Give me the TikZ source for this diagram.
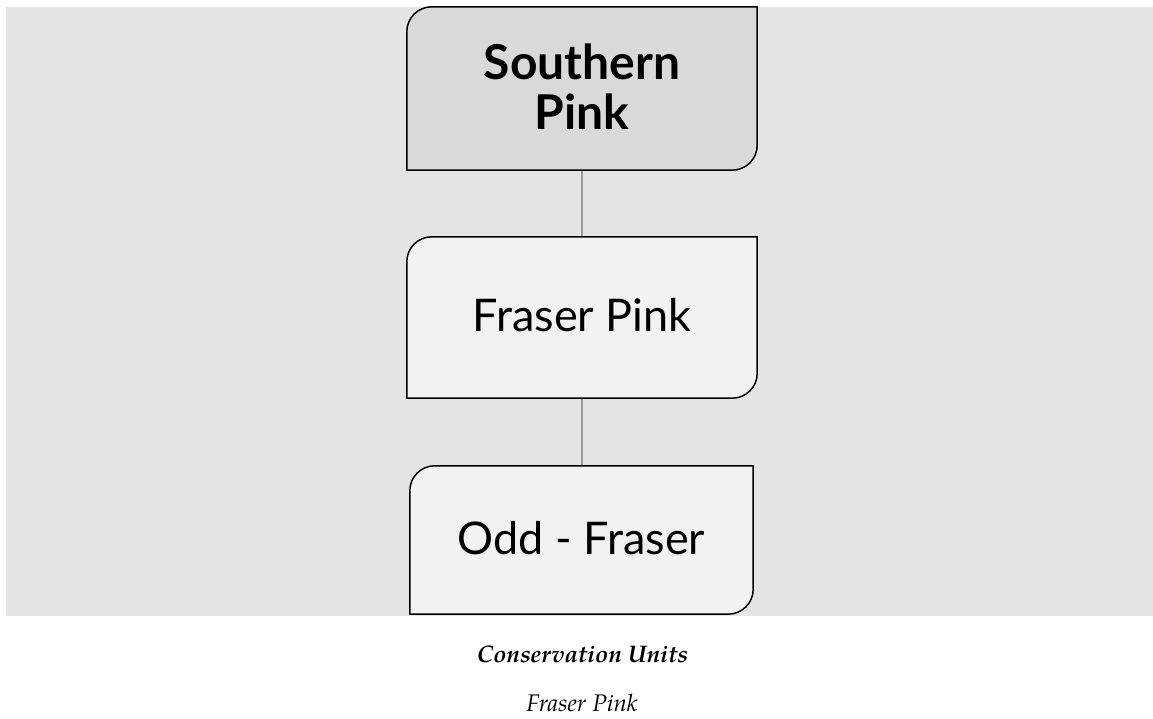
\documentclass[tikz,border=0pt]{standalone}
\usepackage{fontspec}
\setmainfont{Lato}
\newfontfamily\capfont{TeX Gyre Pagella}
\usetikzlibrary{calc}
\definecolor{bgcol}{HTML}{E4E4E4}
\definecolor{topfill}{HTML}{D9D9D9}
\definecolor{boxfill}{HTML}{F2F2F2}
\definecolor{linkcol}{HTML}{999999}
\tikzset{
  unit/.style={inner sep=0pt, align=center, text=black},
  boxline/.style={draw=black, line width=1.5pt},
  link/.style={draw=linkcol, line width=1.5pt},
  captext/.style={inner sep=0pt, text=black, anchor=base},
}
\newcommand{\tabbox}[3]{% name, fill, radius
  \path[boxline, fill=#2] (#1.south west) -- ($(#1.north west)+(0,-#3)$)
    arc[start angle=180, end angle=90, radius=#3] -- (#1.north east)
    -- ($(#1.south east)+(0,#3)$)
    arc[start angle=0, end angle=-90, radius=#3] -- cycle;
}
\begin{document}
\begin{tikzpicture}[x=1pt,y=1pt]
\useasboundingbox (0,0) rectangle (1153,719);
\fill[bgcol] (6,103) rectangle (1153,712);
% nodes
\node[unit, minimum width=350pt, minimum height=163pt] (sp) at (582,630.5) {};
\node[unit, minimum width=350pt, minimum height=161pt] (fp) at (582,401.5) {};
\node[unit, minimum width=343pt, minimum height=148pt] (of) at (581.5,179) {};
\draw[link] (sp.south) -- (fp.north);
\draw[link] (fp.south) -- (fp.south |- of.north);
\tabbox{sp}{topfill}{25pt}
\tabbox{fp}{boxfill}{25pt}
\tabbox{of}{boxfill}{25pt}
\node[unit, font=\fontsize{48}{50}\selectfont\bfseries] at ([yshift=2pt]sp.center) {Southern\\Pink};
\node[unit, font=\fontsize{45}{50}\selectfont] at ([yshift=2pt]fp.center) {Fraser Pink};
\node[unit, font=\fontsize{45}{50}\selectfont] at ([yshift=2pt]of.center) {Odd - Fraser};
% caption
\node[captext, font=\capfont\fontsize{24}{28}\selectfont\bfseries\itshape] (cu) at (582.5,56) {Conservation Units};
\node[captext, font=\capfont\fontsize{24}{28}\selectfont\itshape] (cf) at (582,7) {Fraser Pink};
\end{tikzpicture}
\end{document}
